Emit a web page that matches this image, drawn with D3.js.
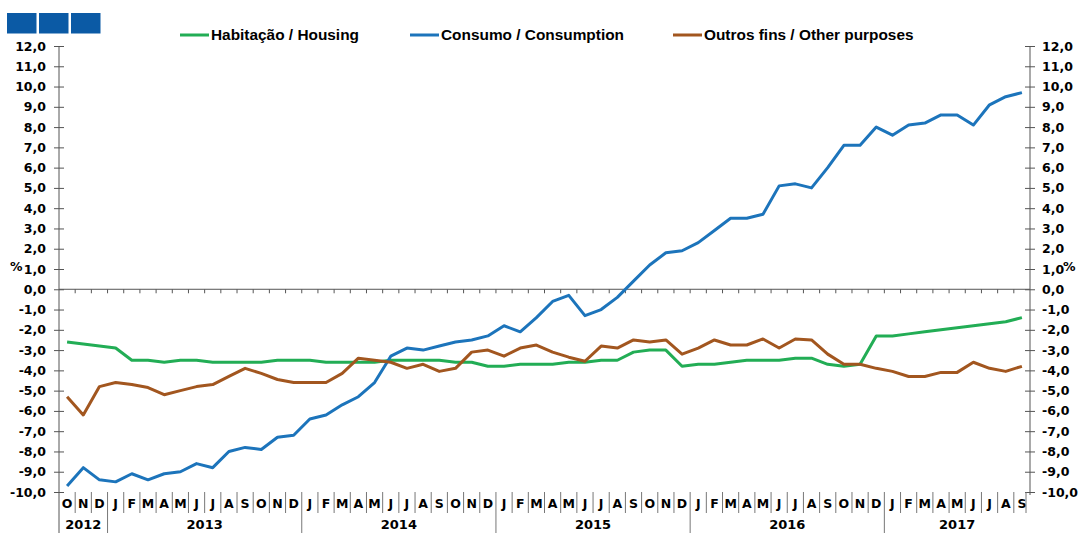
<!DOCTYPE html>
<html>
<head>
<meta charset="utf-8">
<script src="https://cdn.jsdelivr.net/npm/d3@7"></script>
<style>
  body { margin: 0; background: #fff; }
  svg { display: block; }
  .axis text { font-family: "DejaVu Sans", sans-serif; font-weight: bold; font-size: 12.5px; fill: #000; }
  .legend text { font-family: "Liberation Sans", Arial, sans-serif; font-weight: bold; font-size: 15.4px; fill: #000; }
</style>
</head>
<body>
<svg id="chart" width="1082" height="533"></svg>
<script>
// month letters and year labels
const monthLetters = ["J","F","M","A","M","J","J","A","S","O","N","D"];
const years = ["2012","2013","2014","2015","2016","2017"];
const startYear = 2012, startMonth = 9; // October 2012 (0-based month)
const nMonths = 60;                     // Oct 2012 .. Sep 2017

// series values (%), one per month
const housing = [-2.6,-2.7,-2.8,-2.9,-3.5,-3.5,-3.6,-3.5,-3.5,-3.6,
  -3.6,-3.6,-3.6,-3.5,-3.5,-3.5,-3.6,-3.6,-3.6,-3.6,
  -3.5,-3.5,-3.5,-3.5,-3.6,-3.6,-3.8,-3.8,-3.7,-3.7,
  -3.7,-3.6,-3.6,-3.5,-3.5,-3.1,-3.0,-3.0,-3.8,-3.7,
  -3.7,-3.6,-3.5,-3.5,-3.5,-3.4,-3.4,-3.7,-3.8,-3.7,
  -2.3,-2.3,-2.2,-2.1,-2.0,-1.9,-1.8,-1.7,-1.6,-1.4];
const consumption = [-9.7,-8.8,-9.4,-9.5,-9.1,-9.4,-9.1,-9.0,-8.6,-8.8,
  -8.0,-7.8,-7.9,-7.3,-7.2,-6.4,-6.2,-5.7,-5.3,-4.6,
  -3.3,-2.9,-3.0,-2.8,-2.6,-2.5,-2.3,-1.8,-2.1,-1.4,
  -0.6,-0.3,-1.3,-1.0,-0.4,0.4,1.2,1.8,1.9,2.3,
  2.9,3.5,3.5,3.7,5.1,5.2,5.0,6.0,7.1,7.1,
  8.0,7.6,8.1,8.2,8.6,8.6,8.1,9.1,9.5,9.7];
const otherPurposes = [-5.3,-6.2,-4.8,-4.6,-4.7,-4.85,-5.2,-5.0,-4.8,-4.7,
  -4.3,-3.9,-4.15,-4.45,-4.6,-4.6,-4.6,-4.15,-3.4,-3.5,
  -3.6,-3.9,-3.7,-4.05,-3.9,-3.1,-3.0,-3.3,-2.9,-2.75,
  -3.1,-3.35,-3.55,-2.8,-2.9,-2.5,-2.6,-2.5,-3.2,-2.9,
  -2.5,-2.75,-2.75,-2.45,-2.9,-2.45,-2.5,-3.2,-3.7,-3.7,
  -3.9,-4.05,-4.3,-4.3,-4.1,-4.1,-3.6,-3.9,-4.05,-3.8];

const seriesNames = ["Habitação / Housing", "Consumo / Consumption", "Outros fins / Other purposes"];
const seriesColors = ["#22ad55", "#1c74bb", "#a2561f"];
const yTicks = d3.range(-10, 13, 1);

// build the month categories
const months = [];
for (let i = 0; i < nMonths; i++) {
  const m = (startMonth + i) % 12;
  const yr = startYear + Math.floor((startMonth + i) / 12);
  months.push({ key: yr + "-" + m, letter: monthLetters[m], year: yr, month: m });
}

const svg = d3.select("#chart");
const plotLeft = 59, plotRight = 1030, plotTop = 46, plotBottom = 492;
const axisColor = "#555";

const x = d3.scaleBand().domain(months.map(d => d.key)).range([plotLeft, plotRight]);
const y = d3.scaleLinear().domain([-10, 12]).range([plotBottom, plotTop]);
const fmt = d => d3.format(".1f")(d).replace(".", ",").replace("−", "-");

// blue squares top-left
svg.append("g").selectAll("rect")
  .data([0, 1, 2])
  .enter().append("rect")
    .attr("x", d => 7 + d * 32)
    .attr("y", 13)
    .attr("width", 29.5)
    .attr("height", 20.5)
    .attr("fill", "#0b5aa5");

// left axis
const gl = svg.append("g").attr("class", "axis")
  .attr("transform", `translate(${plotLeft},0)`)
  .call(d3.axisLeft(y).tickValues(yTicks).tickFormat(fmt).tickSize(5).tickPadding(8));
gl.select(".domain").remove();
gl.selectAll(".tick line").attr("x1", -5).attr("x2", 5).attr("stroke", axisColor);

// right axis
const gr = svg.append("g").attr("class", "axis")
  .attr("transform", `translate(${plotRight},0)`)
  .call(d3.axisRight(y).tickValues(yTicks).tickFormat(fmt).tickSize(5).tickPadding(7));
gr.select(".domain").remove();
gr.selectAll(".tick line").attr("x1", -5).attr("x2", 5).attr("stroke", axisColor);

// axis lines
svg.append("line").attr("x1", plotLeft).attr("x2", plotLeft).attr("y1", plotTop).attr("y2", 533).attr("stroke", axisColor);
svg.append("line").attr("x1", plotRight).attr("x2", plotRight).attr("y1", plotTop).attr("y2", plotBottom + 3).attr("stroke", axisColor);

// % labels
svg.append("text").attr("x", 10).attr("y", 271)
  .style("font-family", "DejaVu Sans").style("font-weight", "bold").style("font-size", "12.5px").text("%");
svg.append("text").attr("x", 1063).attr("y", 271)
  .style("font-family", "DejaVu Sans").style("font-weight", "bold").style("font-size", "12.5px").text("%");

// zero line with month ticks
svg.append("line").attr("x1", plotLeft).attr("x2", plotRight).attr("y1", y(0)).attr("y2", y(0)).attr("stroke", axisColor);
svg.append("g").selectAll("line")
  .data(months.slice(1))
  .enter().append("line")
    .attr("x1", d => x(d.key)).attr("x2", d => x(d.key))
    .attr("y1", y(0)).attr("y2", y(0) + 4)
    .attr("stroke", axisColor);

// month labels
const gm = svg.append("g").attr("class", "axis")
  .attr("transform", `translate(0,${plotBottom})`)
  .call(d3.axisBottom(x).tickSize(0).tickPadding(7).tickFormat(k => months.find(d => d.key === k).letter));
gm.select(".domain").remove();
gm.selectAll("text").style("font-size", "12.5px");

// month separators
svg.append("g").selectAll("line")
  .data(months.slice(1))
  .enter().append("line")
    .attr("x1", d => x(d.key)).attr("x2", d => x(d.key))
    .attr("y1", plotBottom).attr("y2", d => d.month === 0 ? 533 : 513)
    .attr("stroke", "#777");
svg.append("line").attr("x1", plotRight - 4).attr("x2", plotRight - 4).attr("y1", plotBottom).attr("y2", 513).attr("stroke", "#777");

// year labels
svg.append("g").attr("class", "axis").selectAll("text")
  .data(years)
  .enter().append("text")
    .attr("x", yr => {
      const ms = months.filter(d => d.year === +yr);
      return (x(ms[0].key) + x(ms[ms.length - 1].key) + x.bandwidth()) / 2;
    })
    .attr("y", 529)
    .attr("text-anchor", "middle")
    .style("font-size", "13px")
    .text(yr => yr);

// lines
const line = d3.line()
  .x((d, i) => x(months[i].key) + x.bandwidth() / 2)
  .y(d => y(d));
[housing, consumption, otherPurposes].forEach((s, i) => {
  svg.append("path")
    .datum(s)
    .attr("d", line)
    .attr("fill", "none")
    .attr("stroke", seriesColors[i])
    .attr("stroke-width", 3)
    .attr("stroke-linejoin", "round");
});

// legend
const legendX = [180, 410, 673];
const lg = svg.append("g").attr("class", "legend");
seriesNames.forEach((name, i) => {
  lg.append("line")
    .attr("x1", legendX[i]).attr("x2", legendX[i] + 29)
    .attr("y1", 35).attr("y2", 35)
    .attr("stroke", seriesColors[i]).attr("stroke-width", 3);
  lg.append("text")
    .attr("x", legendX[i] + 31).attr("y", 40)
    .text(name);
});
</script>
</body>
</html>
